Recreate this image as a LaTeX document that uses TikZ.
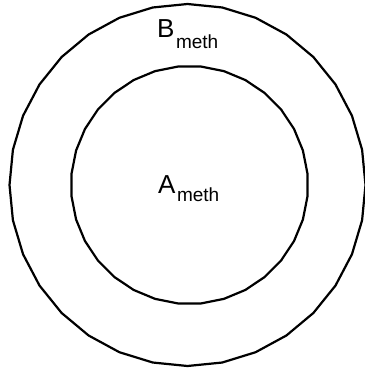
\documentclass[tikz,border=0pt]{standalone}
\usepackage{fontspec}
\setmainfont{Liberation Sans}
\begin{document}
\begin{tikzpicture}[x=1pt,y=-1pt,
  ring/.style={draw=black,line width=2.2pt,line join=round},
  lbl/.style={inner sep=0pt,anchor=base west,font=\fontsize{26}{26}\selectfont}]
\useasboundingbox (0,0) rectangle (364,371);
\draw[ring] plot[samples=33,domain=0:360,variable=\t] ({187.5+178*cos(\t)},{185+181*sin(\t)}) -- cycle;
\draw[ring] plot[samples=33,domain=5.625:365.625,variable=\t] ({189.5+118.5*cos(\t)},{185+119*sin(\t)}) -- cycle;
\node[lbl] (B) at (157,38) {B\kern1.5pt\raisebox{-11pt}{\fontsize{19}{19}\selectfont meth}};
\node[lbl] (A) at (158,193) {A\kern1.5pt\raisebox{-9pt}{\fontsize{19}{19}\selectfont meth}};
\end{tikzpicture}
\end{document}
